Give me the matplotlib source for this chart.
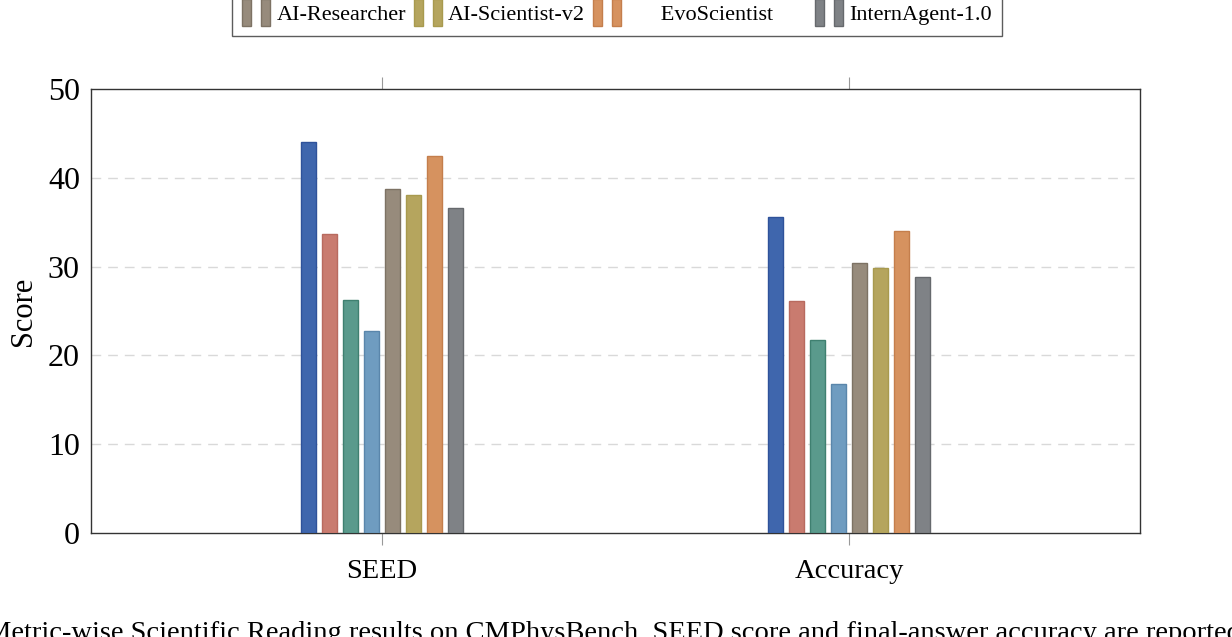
import numpy as np
import matplotlib.pyplot as plt
from matplotlib.patches import Rectangle
from matplotlib.legend_handler import HandlerTuple

plt.rcParams['font.family'] = ['Liberation Serif', 'DejaVu Serif']

metrics = ["SEED", "Accuracy"]
# first four methods are not named in the visible part of the legend
methods = ["", "", "", "", "AI-Researcher", "AI-Scientist-v2", "EvoScientist", "InternAgent-1.0"]
colors = ["#3f66ad", "#c97b6f", "#5a9a8c", "#6f9cc0", "#978b7c", "#b5a55e", "#d6925f", "#7f8286"]
edges = ["#2f529a", "#b86a5f", "#3f8070", "#5a86ab", "#7d7264", "#a89a4e", "#c47e4c", "#66696d"]

seed_scores = [44.0, 33.7, 26.2, 22.8, 38.7, 38.1, 42.45, 36.6]
acc_scores = [35.55, 26.1, 21.7, 16.75, 30.4, 29.85, 34.0, 28.8]

fig = plt.figure(figsize=(12.32, 6.37), dpi=100)
ax = fig.add_axes([91 / 1232, 1 - 533 / 637, (1140 - 91) / 1232, (533 - 89) / 637])

x = np.arange(len(metrics))
pitch = 0.045
width = 0.033
for i in range(len(methods)):
    vals = [seed_scores[i], acc_scores[i]]
    ax.bar(x + (i - 3.5) * pitch, vals, width, color=colors[i],
           edgecolor=edges[i], linewidth=1.0, zorder=3)

ax.set_xlim(-0.623, 1.623)
ax.set_ylim(0, 50)
ax.set_yticks([0, 10, 20, 30, 40, 50])
ax.set_xticks(x)
ax.set_xticklabels(metrics, fontsize=20.5)
ax.tick_params(axis='y', length=0, labelsize=23, pad=8)
ax.tick_params(axis='x', direction='out', length=8.5, width=0.8, color='#999999',
               top=True, pad=10)
for yv in [10, 20, 30, 40]:
    ax.axhline(yv, color='#d9d9d9', linewidth=1.0, linestyle=(0, (7, 5)), zorder=1)
for s in ax.spines.values():
    s.set_color('#333333')
    s.set_linewidth(1.0)
ax.set_ylabel("Score", fontsize=22, labelpad=7)

# legend (its top row falls outside the picture)
handles = []
labels = []
for i in range(4, 8):
    p1 = Rectangle((0, 0), 1, 1, facecolor=colors[i], edgecolor=edges[i])
    p2 = Rectangle((0, 0), 1, 1, facecolor=colors[i], edgecolor=edges[i])
    handles.append((p1, p2))
    labels.append(methods[i])
labels[2] = "      " + labels[2] + "      "
leg = fig.legend(handles, labels, handler_map={tuple: HandlerTuple(ndivide=None, pad=0.45)},
                 loc='lower left', bbox_to_anchor=(232 / 1232, 1 - 36 / 637),
                 ncol=4, fontsize=16, frameon=True, fancybox=False,
                 edgecolor='#333333', handlelength=1.25, handleheight=1.5,
                 columnspacing=0.35, handletextpad=0.3, borderpad=0.45,
                 borderaxespad=0)
leg.get_frame().set_linewidth(1.0)

fig.text(-0.011, -0.004, "Metric-wise Scientific Reading results on CMPhysBench. SEED score and final-answer accuracy are reported",
         fontsize=20.5, ha='left', va='baseline')

fig.savefig("out.png", dpi=100)
